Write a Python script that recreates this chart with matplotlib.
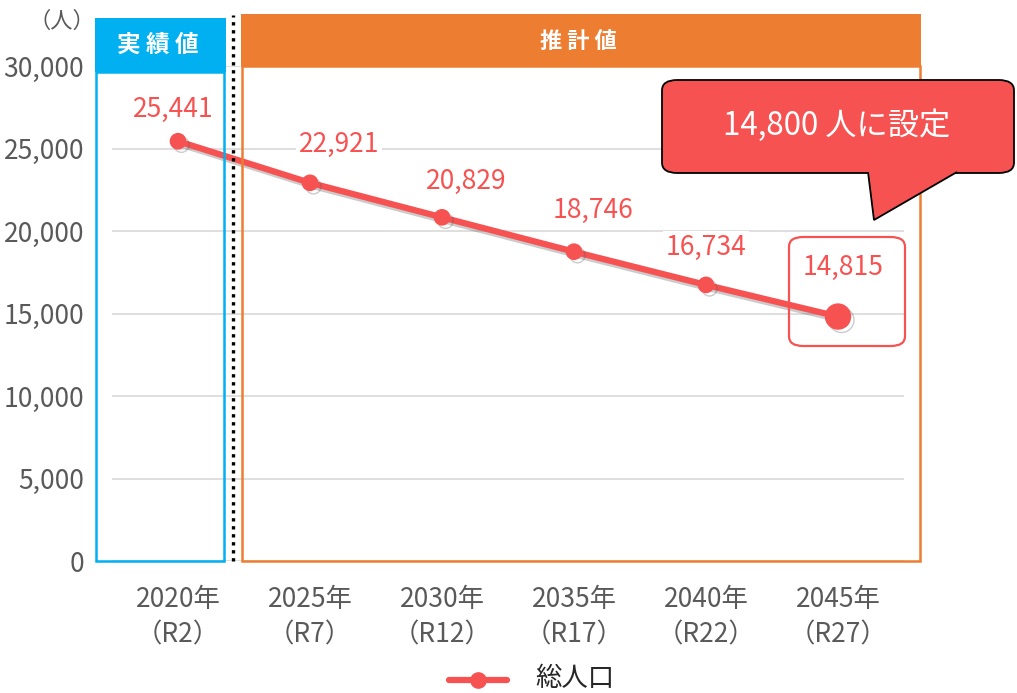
import matplotlib.pyplot as plt
import matplotlib.patheffects as pe
from matplotlib.patches import Rectangle, FancyBboxPatch, Polygon

plt.rcParams['font.family'] = ['Noto Sans CJK JP', 'DejaVu Sans']

years = ['2020年\n（R2）', '2025年\n（R7）', '2030年\n（R12）', '2035年\n（R17）', '2040年\n（R22）', '2045年\n（R27）']
population = [25441, 22921, 20829, 18746, 16734, 14815]
yticks = [0, 5000, 10000, 15000, 20000, 25000, 30000]

# label offsets from each point, in pixels (layout only)
label_off = [(-5, 32), (29, 38), (24, 36), (19, 41), (0, 37), (5, 49)]

RED = '#F75252'
GRAY = '#595959'
BLUE = '#00B0F0'
ORANGE = '#ED7D31'

W, H = 1017, 693
fig = plt.figure(figsize=(W / 100, H / 100), dpi=100)


def fx(px):
    return px / W


def fy(py):
    return 1 - py / H


ax = fig.add_axes([fx(112), fy(561), fx(904) - fx(112), fy(66) - fy(561)])
x = list(range(len(years)))

# background boxes (actual / projected)
tf = fig.transFigure
fig.patches.append(Rectangle((fx(96), fy(561)), fx(224) - fx(96), fy(72) - fy(561),
                             transform=tf, fill=False, ec=BLUE, lw=1.8, zorder=0))
fig.patches.append(Rectangle((fx(95), fy(72)), fx(226) - fx(95), fy(18) - fy(72),
                             transform=tf, fc=BLUE, ec='none', zorder=0))
fig.patches.append(Rectangle((fx(242), fy(561)), fx(920) - fx(242), fy(66) - fy(561),
                             transform=tf, fill=False, ec=ORANGE, lw=1.8, zorder=0))
fig.patches.append(Rectangle((fx(241), fy(66)), fx(921) - fx(241), fy(14) - fy(66),
                             transform=tf, fc=ORANGE, ec='none', zorder=0))
fig.lines.append(plt.Line2D([fx(233), fx(233)], [fy(561), fy(15)], transform=tf,
                            color='black', lw=2.4, ls=(0, (1, 1.4)), zorder=0))
fig.text(fx(158), fy(45), '実　績　値'.replace('　', ' '), color='white', fontsize=17,
         fontweight='bold', ha='center', va='center')
fig.text(fx(578), fy(41), '推 計 値', color='white', fontsize=16,
         fontweight='bold', ha='center', va='center')
fig.text(fx(62), fy(21), '（人）', color=GRAY, fontsize=16, ha='center', va='center')

ax.set_facecolor('none')
shadow = [pe.SimpleLineShadow(offset=(2.5, -2.5), shadow_color='#555555', alpha=0.3), pe.Normal()]
ax.plot(x, population, color=RED, lw=4.5, marker='o', ms=11, zorder=3,
        path_effects=shadow)
ax.plot(x[-1], population[-1], color=RED, marker='o', ms=18, ls='none', zorder=4,
        path_effects=shadow)

for i, v in enumerate(population):
    dx, dy = label_off[i]
    ax.annotate(f'{v:,}', (i, v), xytext=(dx * 0.72, dy * 0.72), textcoords='offset points',
                ha='center', va='center', color=RED, fontsize=19,
                bbox=dict(fc='white', ec='none', pad=2) if 0 < i < 5 else None, zorder=2)

fig.patches.append(FancyBboxPatch((fx(789), fy(346)), fx(905) - fx(789), fy(237) - fy(346),
                                  boxstyle='round,pad=0,rounding_size=0.014', transform=tf,
                                  fill=False, ec=RED, lw=1.6, zorder=5))

ax.set_xlim(-0.5, 5.5)
ax.set_ylim(0, 30000)
ax.set_yticks(yticks)
ax.set_yticklabels([f'{t:,}' for t in yticks])
ax.set_xticks(x)
ax.set_xticklabels(years, linespacing=1.38)
ax.grid(axis='y', color='#D9D9D9', lw=1.2)
ax.set_axisbelow(True)
for s in ax.spines.values():
    s.set_visible(False)
ax.tick_params(length=0, labelsize=19, colors=GRAY)
ax.tick_params(axis='x', pad=18)
ax.tick_params(axis='y', pad=20)

# callout bubble
fig.patches.append(FancyBboxPatch((fx(662), fy(173)), fx(1014) - fx(662), fy(80) - fy(173),
                                  boxstyle='round,pad=0,rounding_size=0.015', transform=tf,
                                  fc=RED, ec='black', lw=1.3, zorder=6))
fig.patches.append(Polygon([(fx(868), fy(172)), (fx(874), fy(220)), (fx(957), fy(172))],
                           closed=False, transform=tf, fc=RED, ec='black', lw=1.3, zorder=7))
fig.patches.append(Polygon([(fx(869.5), fy(171)), (fx(875), fy(216)), (fx(954), fy(171))],
                           transform=tf, fc=RED, ec='none', zorder=8))
fig.text(fx(837), fy(126), '14,800 人に設定', color='white', fontsize=22.5,
         ha='center', va='center', zorder=9)

# legend
fig.lines.append(plt.Line2D([fx(449), fx(507)], [fy(680), fy(680)], transform=tf,
                            color=RED, lw=4.5, solid_capstyle='round'))
fig.lines.append(plt.Line2D([fx(478)], [fy(680)], transform=tf, color=RED,
                            marker='o', ms=11))
fig.text(fx(535), fy(679), '総人口', color='#262626', fontsize=19, ha='left', va='center')

fig.savefig('out.png', dpi=100)
